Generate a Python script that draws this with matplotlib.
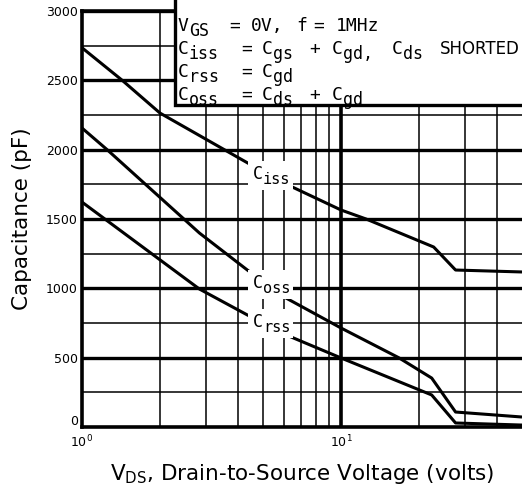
import matplotlib
matplotlib.use("Agg")
import matplotlib.pyplot as plt
from matplotlib.patches import Rectangle
from matplotlib.ticker import FixedLocator, NullFormatter

# curvas de capacitancia (V_DS em volts, C em pF)
vds_iss = [1, 1.43, 2, 4.43, 6.48, 10, 12.5, 22.8, 27.7, 50]
ciss = [2735, 2500, 2264, 1897, 1731, 1565, 1500, 1298, 1132, 1118]

vds_oss = [1, 1.25, 2.84, 4.35, 6.04, 10, 16.7, 22.4, 27.7, 50]
coss = [2156, 2000, 1399, 1132, 937, 714, 500, 353, 108, 72]

vds_rss = [1, 2.84, 4.35, 6.42, 10, 22.4, 27.7, 50]
crss = [1622, 995, 808, 649, 498, 231, 29, 14]

y_ticks = [0, 500, 1000, 1500, 2000, 2500, 3000]
y_minor = [250, 750, 1250, 1750, 2250, 2750]
x_minor = [2, 3, 4, 5, 6, 7, 8, 9, 20, 30, 40]

MONO = "DejaVu Sans Mono"
W, H = 522, 487
fig = plt.figure(figsize=(W / 100, H / 100), dpi=100)
ax = fig.add_axes([82 / W, 1 - 427 / H, 440 / W, 416 / H])
renderer = fig.canvas.get_renderer()

ax.set_xscale("log")
ax.set_xlim(1, 50)
ax.set_ylim(0, 3000)

# grade: linhas grossas nos valores principais, finas nos intermediarios
for y in y_minor:
    ax.axhline(y, color="black", lw=1.1, zorder=1)
for y in y_ticks[1:]:
    ax.axhline(y, color="black", lw=2.4, zorder=1)
for x in x_minor:
    ax.axvline(x, color="black", lw=1.1, zorder=1)
ax.axvline(10, color="black", lw=2.6, zorder=1)

for vds, c in [(vds_iss, ciss), (vds_oss, coss), (vds_rss, crss)]:
    ax.plot(vds, c, color="black", lw=2.2, zorder=3, solid_capstyle="butt")


def escreve(px, base, main, sub="", fs=13, family=MONO):
    """texto com subscrito grande, posicionado em pixels da figura"""
    t = fig.text(px / W, 1 - base / H, main, fontsize=fs, family=family,
                 va="baseline", zorder=6)
    if sub:
        bb = t.get_window_extent(renderer)
        fig.text(bb.x1 / W, 1 - (base + 5) / H, sub, fontsize=fs - 1,
                 family=family, va="baseline", zorder=6)


# rotulos das curvas com fundo branco interrompendo as linhas
for cx, cy, sub in [(270, 175, "iss"), (270, 284, "oss"), (270, 323, "rss")]:
    ax.add_patch(Rectangle(((cx - 22) / W, 1 - (cy + 15) / H), 45 / W, 29 / H,
                           transform=fig.transFigure, facecolor="white",
                           edgecolor="none", zorder=4))
    escreve(cx - 17, cy + 4, "C", sub, fs=12)

# caixa com as condicoes de teste
box = Rectangle((175 / W, 1 - 105 / H), 0.8, 0.3, transform=fig.transFigure,
                facecolor="white", edgecolor="black", lw=2.4, zorder=5,
                clip_on=False)
ax.add_patch(box)

escreve(178, 31, "V", "GS")
escreve(229, 31, "=")
escreve(251, 31, "0V,")
escreve(296, 31, "f")
escreve(313, 31, "=")
escreve(336, 31, "1MHz")

escreve(178, 54, "C", "iss")
escreve(241, 54, "=")
escreve(262, 54, "C", "gs")
escreve(309, 54, "+")
escreve(332, 54, "C", "gd,")
escreve(392, 54, "C", "ds")
escreve(440, 54, "SHORTED", fs=12, family="DejaVu Sans")

escreve(178, 77, "C", "rss")
escreve(241, 77, "=")
escreve(262, 77, "C", "gd")

escreve(178, 100, "C", "oss")
escreve(241, 100, "=")
escreve(262, 100, "C", "ds")
escreve(309, 100, "+")
escreve(332, 100, "C", "gd")

for side in ["left", "bottom", "top"]:
    ax.spines[side].set_linewidth(2.6)
ax.spines["right"].set_visible(False)

ax.set_yticks(y_ticks)
ax.set_yticklabels([""] + [str(v) for v in y_ticks[1:]], fontsize=9)
ax.text(-0.008, 0.014, "0", transform=ax.transAxes, ha="right", va="center",
        fontsize=9)
ax.xaxis.set_major_locator(FixedLocator([1, 10]))
ax.set_xticklabels([r"$10^0$", r"$10^1$"], fontsize=9)
ax.xaxis.set_minor_formatter(NullFormatter())
ax.tick_params(which="both", length=0)
ax.tick_params(axis="x", pad=5)
ax.tick_params(axis="y", pad=3)

ax.set_ylabel("Capacitance (pF)", fontsize=15.5, labelpad=10)
ax.set_xlabel(r"V$_{\mathregular{DS}}$, Drain-to-Source Voltage (volts)",
              fontsize=15.5, labelpad=8)

fig.savefig("out.png", dpi=100)
